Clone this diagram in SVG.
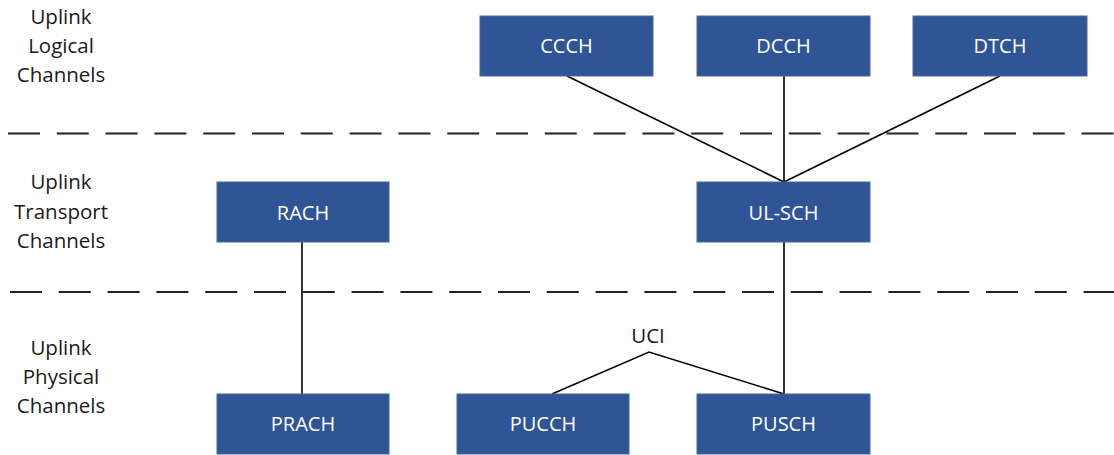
<svg xmlns="http://www.w3.org/2000/svg" width="1114" height="455" viewBox="0 0 1114 455">
  <style>
    .box { fill: #2F5597; stroke: #4A6796; stroke-width: 1; }
    .boxlabel { font-family: "Open Sans", "Liberation Sans", sans-serif; font-size: 20px; fill: #FFFFFF; text-anchor: middle; }
    .layer { font-family: "Open Sans", "Liberation Sans", sans-serif; font-size: 20.5px; fill: #1A1A1A; text-anchor: middle; }
    .divider { stroke: #222222; stroke-width: 2; stroke-dasharray: 32 16.8; fill: none; }
    .link { stroke: #000000; stroke-width: 1.6; fill: none; }
  </style>
  <rect width="1114" height="455" fill="#FFFFFF"/>

  <!-- layer dividers -->
  <g id="dividers">
    <line class="divider" x1="8" y1="133.5" x2="1114" y2="133.5"/>
    <line class="divider" x1="10" y1="292" x2="1114" y2="292"/>
  </g>

  <!-- layer titles -->
  <g id="layer-logical">
    <text class="layer" x="61" y="24">Uplink</text>
    <text class="layer" x="61" y="53">Logical</text>
    <text class="layer" x="61" y="82">Channels</text>
  </g>
  <g id="layer-transport">
    <text class="layer" x="61" y="189">Uplink</text>
    <text class="layer" x="61" y="218.5">Transport</text>
    <text class="layer" x="61" y="248">Channels</text>
  </g>
  <g id="layer-physical">
    <text class="layer" x="61" y="355">Uplink</text>
    <text class="layer" x="61" y="384">Physical</text>
    <text class="layer" x="61" y="413">Channels</text>
  </g>

  <!-- connectors -->
  <g id="connectors">
    <line class="link" x1="567" y1="76" x2="784" y2="182"/>
    <line class="link" x1="784" y1="76" x2="784" y2="182"/>
    <line class="link" x1="1000" y1="76" x2="784" y2="182"/>
    <line class="link" x1="302" y1="242" x2="302" y2="394"/>
    <line class="link" x1="784" y1="242" x2="784" y2="394"/>
    <polyline class="link" points="552,394 649,352 784,394"/>
  </g>
  <text id="uci-label" class="layer" x="648" y="343">UCI</text>

  <!-- logical channels -->
  <g id="ccch">
    <rect class="box" x="480" y="16" width="173" height="60"/>
    <text class="boxlabel" x="566.5" y="53">CCCH</text>
  </g>
  <g id="dcch">
    <rect class="box" x="697" y="16" width="173" height="60"/>
    <text class="boxlabel" x="783.5" y="53">DCCH</text>
  </g>
  <g id="dtch">
    <rect class="box" x="913" y="16" width="174" height="60"/>
    <text class="boxlabel" x="1000" y="53">DTCH</text>
  </g>

  <!-- transport channels -->
  <g id="rach">
    <rect class="box" x="217" y="182" width="172" height="60"/>
    <text class="boxlabel" x="303" y="220">RACH</text>
  </g>
  <g id="ul-sch">
    <rect class="box" x="697" y="182" width="173" height="60"/>
    <text class="boxlabel" x="783.5" y="220">UL-SCH</text>
  </g>

  <!-- physical channels -->
  <g id="prach">
    <rect class="box" x="217" y="394" width="172" height="60"/>
    <text class="boxlabel" x="303" y="431">PRACH</text>
  </g>
  <g id="pucch">
    <rect class="box" x="457" y="394" width="172" height="60"/>
    <text class="boxlabel" x="543" y="431">PUCCH</text>
  </g>
  <g id="pusch">
    <rect class="box" x="697" y="394" width="173" height="60"/>
    <text class="boxlabel" x="783.5" y="431">PUSCH</text>
  </g>
</svg>
